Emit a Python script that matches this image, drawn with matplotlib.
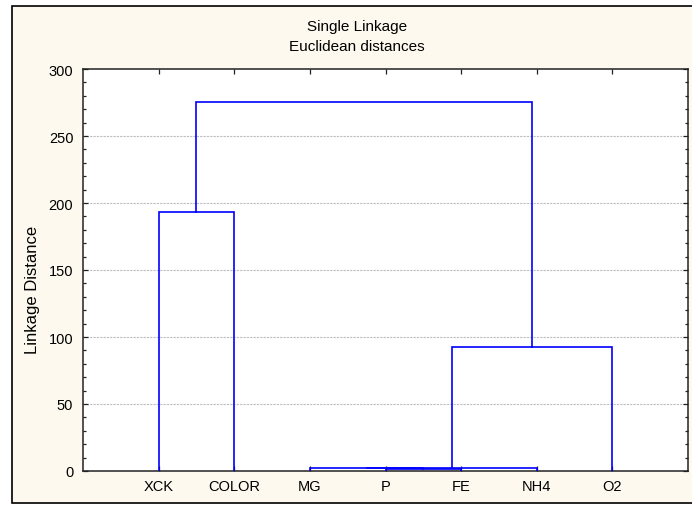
import matplotlib.pyplot as plt
from matplotlib.patches import Rectangle
from matplotlib.ticker import MultipleLocator

plt.rcParams['font.family'] = ['Liberation Sans', 'DejaVu Sans']

# leaves in drawing order and single-linkage merges (left, right, height)
labels = ['XCK', 'COLOR', 'MG', 'P', 'FE', 'NH4', 'O2']
merge_left = ['P', 'MG', 'MG+P+FE', 'MG+P+FE+NH4', 'XCK', 'XCK+COLOR']
merge_right = ['FE', 'P+FE', 'NH4', 'O2', 'COLOR', 'MG+P+FE+NH4+O2']
merge_height = [1.7, 2.2, 2.6, 92.8, 193.5, 275.5]

W, H = 692, 506
fig = plt.figure(figsize=(W / 100, H / 100), dpi=100)
fig.patch.set_facecolor('white')

# cream panel with black border behind everything
fig.add_artist(Rectangle((12 / W, 2 / H), 700 / W, 497 / H, transform=fig.transFigure,
                         facecolor='#fdf9ee', edgecolor='black', lw=1.2, zorder=-1))

ax = fig.add_axes([83 / W, 34 / H, 605 / W, 402 / H])
ax.set_facecolor('white')
ax.set_zorder(1)

# node positions: leaves at 1..n, clusters at mean of children
pos = {name: (i + 1, 0.0) for i, name in enumerate(labels)}
for l, r, h in zip(merge_left, merge_right, merge_height):
    xl, yl = pos[l]
    xr, yr = pos[r]
    ax.plot([xl, xl, xr, xr], [yl, h, h, yr], color='#0000ff', lw=1.2, zorder=3,
            solid_joinstyle='miter')
    pos[l + '+' + r] = ((xl + xr) / 2, h)

ax.set_xlim(0, len(labels) + 1)
ax.set_ylim(0, 300)
ax.set_xticks(range(1, len(labels) + 1))
ax.set_xticklabels(labels)
ax.yaxis.set_major_locator(MultipleLocator(50))
ax.yaxis.set_minor_locator(MultipleLocator(10))
ax.tick_params(axis='both', which='both', direction='in', top=True, right=True,
               labelsize=10.5, color='#222222')
ax.tick_params(axis='both', which='major', length=3.5, width=0.9)
ax.tick_params(axis='y', which='minor', length=2.5, width=0.9)
ax.tick_params(axis='x', pad=6)
ax.tick_params(axis='y', pad=7)

for y in range(50, 300, 50):
    ax.axhline(y, color='#bdbdbd', lw=0.8, ls=(0, (2, 1)), zorder=1)

for s in ax.spines.values():
    s.set_linewidth(1.1)
    s.set_color('#222222')

fig.text(357 / W, 1 - 27 / H, 'Single Linkage', ha='center', va='center', fontsize=11)
fig.text(357 / W, 1 - 47 / H, 'Euclidean distances', ha='center', va='center', fontsize=11)
fig.text(32 / W, 1 - 290 / H, 'Linkage Distance', ha='center', va='center',
         rotation=90, fontsize=12)

fig.savefig('out.png', dpi=100)
